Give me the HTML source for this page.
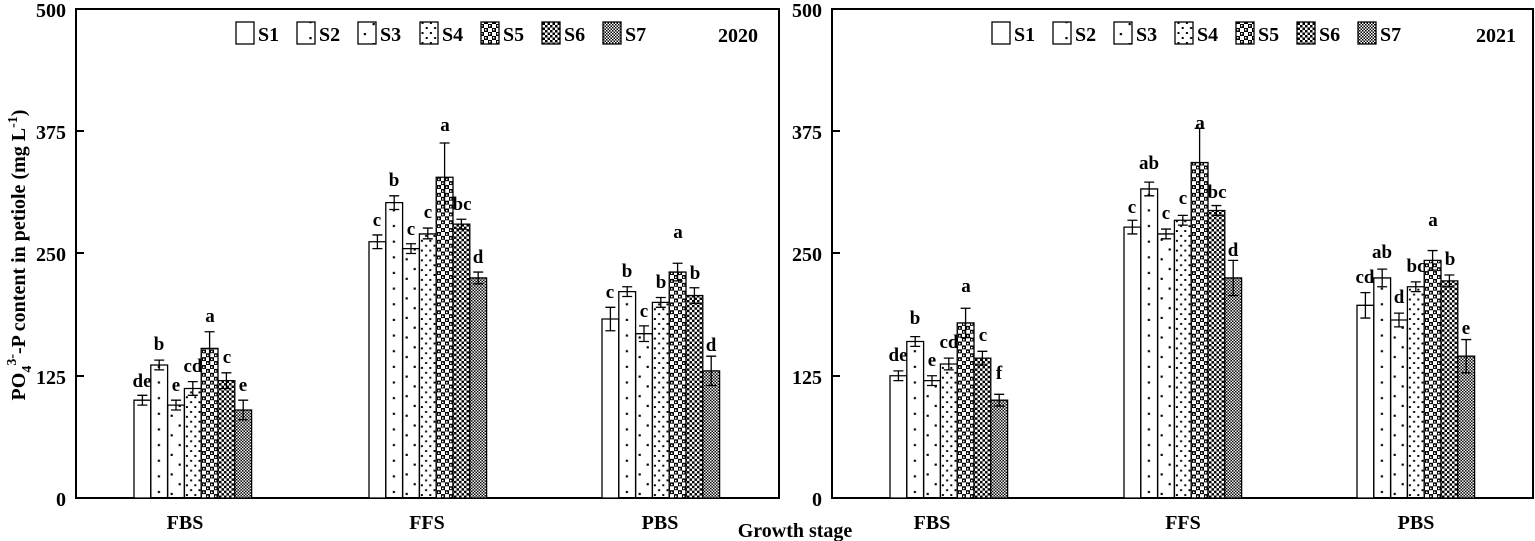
<!DOCTYPE html>
<html><head><meta charset="utf-8"><style>
html,body{margin:0;padding:0;background:#fff;}
svg{display:block;font-family:"Liberation Serif",serif;font-weight:bold;}
</style></head><body>
<svg width="1535" height="541" viewBox="0 0 1535 541" xmlns="http://www.w3.org/2000/svg">
<defs>
<pattern id="p2" patternUnits="userSpaceOnUse" width="16.8" height="16"><rect x="7" y="5" width="2.2" height="2.2" fill="#000"/></pattern>
<pattern id="p3" patternUnits="userSpaceOnUse" width="16.8" height="20"><rect x="3" y="3" width="2.2" height="2.2" fill="#000"/><rect x="11" y="13" width="2.2" height="2.2" fill="#000"/></pattern>
<pattern id="p4" patternUnits="userSpaceOnUse" width="8.4" height="10"><rect x="1.5" y="2" width="2" height="2" fill="#000"/><rect x="5.7" y="7" width="2" height="2" fill="#000"/></pattern>
<pattern id="p5" patternUnits="userSpaceOnUse" width="8" height="8"><rect width="8" height="8" fill="#fff"/><rect x="0" y="0" width="4" height="4" fill="#000"/><rect x="4" y="4" width="4" height="4" fill="#000"/><rect x="1" y="1" width="1.5" height="1.5" fill="#fff"/><rect x="5" y="5" width="1.5" height="1.5" fill="#fff"/></pattern>
<pattern id="p6" patternUnits="userSpaceOnUse" width="5" height="5"><rect width="5" height="5" fill="#fff"/><rect x="0" y="0" width="2.5" height="2.5" fill="#000"/><rect x="2.5" y="2.5" width="2.5" height="2.5" fill="#000"/></pattern>
<pattern id="p7" patternUnits="userSpaceOnUse" width="3" height="3"><rect width="3" height="3" fill="#fff"/><rect x="0" y="0" width="1.5" height="1.5" fill="#000"/><rect x="1.5" y="1.5" width="1.5" height="1.5" fill="#000"/></pattern>
</defs>

<g font-size="20" text-anchor="end">
<text x="66" y="17">500</text><text x="66" y="139">375</text><text x="66" y="261">250</text><text x="66" y="384">125</text><text x="66" y="506">0</text>
<text x="822" y="17">500</text><text x="822" y="139">375</text><text x="822" y="261">250</text><text x="822" y="384">125</text><text x="822" y="506">0</text>
</g>
<text transform="translate(25,255) rotate(-90)" font-size="20" text-anchor="middle">PO<tspan font-size="14" dy="6">4</tspan><tspan font-size="14" dy="-15">3-</tspan><tspan dy="9">-P content in petiole (mg L</tspan><tspan font-size="14" dy="-8">-1</tspan><tspan dy="8">)</tspan></text>

<g font-size="20" text-anchor="middle">
<text x="185" y="529">FBS</text><text x="427" y="529">FFS</text><text x="660" y="529">PBS</text>
<text x="932" y="529">FBS</text><text x="1183" y="529">FFS</text><text x="1416" y="529">PBS</text>
<text x="795" y="537">Growth stage</text>
</g>

<g fill="none" stroke="#000" stroke-width="2">
<rect x="76" y="9" width="703" height="489"/>
<rect x="832" y="9" width="701" height="489"/>
<path d="M76 131h8M76 253h8M76 376h8M832 131h8M832 253h8M832 376h8"/>
</g>

<g stroke="#000" stroke-width="1.3">
<g transform="translate(134,498) scale(1,-0.978)">
<rect x="0" width="16.8" height="100" fill="#fff" vector-effect="non-scaling-stroke"/>
<rect x="16.8" width="16.8" height="136" fill="url(#p2)" vector-effect="non-scaling-stroke"/>
<rect x="33.6" width="16.8" height="95" fill="url(#p3)" vector-effect="non-scaling-stroke"/>
<rect x="50.4" width="16.8" height="112" fill="url(#p4)" vector-effect="non-scaling-stroke"/>
<rect x="67.2" width="16.8" height="153" fill="url(#p5)" vector-effect="non-scaling-stroke"/>
<rect x="84" width="16.8" height="120" fill="url(#p6)" vector-effect="non-scaling-stroke"/>
<rect x="100.8" width="16.8" height="90" fill="url(#p7)" vector-effect="non-scaling-stroke"/>
<path vector-effect="non-scaling-stroke" fill="none" d="M8.4 95V105M3.4 95h10M3.4 105h10 M25.2 131V141M20.2 131h10M20.2 141h10 M42 90V100M37 90h10M37 100h10 M58.8 105V119M53.8 105h10M53.8 119h10 M75.6 136V170M70.6 170h10 M92.4 112V128M87.4 112h10M87.4 128h10 M109.2 80V100M104.2 80h10M104.2 100h10"/>
</g>
<g transform="translate(369,498) scale(1,-0.978)">
<rect x="0" width="16.8" height="262" fill="#fff" vector-effect="non-scaling-stroke"/>
<rect x="16.8" width="16.8" height="302" fill="url(#p2)" vector-effect="non-scaling-stroke"/>
<rect x="33.6" width="16.8" height="255" fill="url(#p3)" vector-effect="non-scaling-stroke"/>
<rect x="50.4" width="16.8" height="270" fill="url(#p4)" vector-effect="non-scaling-stroke"/>
<rect x="67.2" width="16.8" height="328" fill="url(#p5)" vector-effect="non-scaling-stroke"/>
<rect x="84" width="16.8" height="280" fill="url(#p6)" vector-effect="non-scaling-stroke"/>
<rect x="100.8" width="16.8" height="225" fill="url(#p7)" vector-effect="non-scaling-stroke"/>
<path vector-effect="non-scaling-stroke" fill="none" d="M8.4 255V269M3.4 255h10M3.4 269h10 M25.2 295V309M20.2 295h10M20.2 309h10 M42 250V260M37 250h10M37 260h10 M58.8 265V276M53.8 265h10M53.8 276h10 M75.6 293V363M70.6 363h10 M92.4 275V285M87.4 275h10M87.4 285h10 M109.2 219V231M104.2 219h10M104.2 231h10"/>
</g>
<g transform="translate(602,498) scale(1,-0.978)">
<rect x="0" width="16.8" height="183" fill="#fff" vector-effect="non-scaling-stroke"/>
<rect x="16.8" width="16.8" height="211" fill="url(#p2)" vector-effect="non-scaling-stroke"/>
<rect x="33.6" width="16.8" height="168" fill="url(#p3)" vector-effect="non-scaling-stroke"/>
<rect x="50.4" width="16.8" height="200" fill="url(#p4)" vector-effect="non-scaling-stroke"/>
<rect x="67.2" width="16.8" height="231" fill="url(#p5)" vector-effect="non-scaling-stroke"/>
<rect x="84" width="16.8" height="207" fill="url(#p6)" vector-effect="non-scaling-stroke"/>
<rect x="100.8" width="16.8" height="130" fill="url(#p7)" vector-effect="non-scaling-stroke"/>
<path vector-effect="non-scaling-stroke" fill="none" d="M8.4 171V195M3.4 171h10M3.4 195h10 M25.2 206V216M20.2 206h10M20.2 216h10 M42 160V176M37 160h10M37 176h10 M58.8 195V205M53.8 195h10M53.8 205h10 M75.6 222V240M70.6 222h10M70.6 240h10 M92.4 199V215M87.4 199h10M87.4 215h10 M109.2 115V145M104.2 115h10M104.2 145h10"/>
</g>
<g transform="translate(890,498) scale(1,-0.978)">
<rect x="0" width="16.8" height="125" fill="#fff" vector-effect="non-scaling-stroke"/>
<rect x="16.8" width="16.8" height="160" fill="url(#p2)" vector-effect="non-scaling-stroke"/>
<rect x="33.6" width="16.8" height="120" fill="url(#p3)" vector-effect="non-scaling-stroke"/>
<rect x="50.4" width="16.8" height="137" fill="url(#p4)" vector-effect="non-scaling-stroke"/>
<rect x="67.2" width="16.8" height="179" fill="url(#p5)" vector-effect="non-scaling-stroke"/>
<rect x="84" width="16.8" height="143" fill="url(#p6)" vector-effect="non-scaling-stroke"/>
<rect x="100.8" width="16.8" height="100" fill="url(#p7)" vector-effect="non-scaling-stroke"/>
<path vector-effect="non-scaling-stroke" fill="none" d="M8.4 120V130M3.4 120h10M3.4 130h10 M25.2 155V165M20.2 155h10M20.2 165h10 M42 115V125M37 115h10M37 125h10 M58.8 131V143M53.8 131h10M53.8 143h10 M75.6 164V194M70.6 164h10M70.6 194h10 M92.4 136V150M87.4 136h10M87.4 150h10 M109.2 94V106M104.2 94h10M104.2 106h10"/>
</g>
<g transform="translate(1124,498) scale(1,-0.978)">
<rect x="0" width="16.8" height="277" fill="#fff" vector-effect="non-scaling-stroke"/>
<rect x="16.8" width="16.8" height="316" fill="url(#p2)" vector-effect="non-scaling-stroke"/>
<rect x="33.6" width="16.8" height="270" fill="url(#p3)" vector-effect="non-scaling-stroke"/>
<rect x="50.4" width="16.8" height="284" fill="url(#p4)" vector-effect="non-scaling-stroke"/>
<rect x="67.2" width="16.8" height="343" fill="url(#p5)" vector-effect="non-scaling-stroke"/>
<rect x="84" width="16.8" height="294" fill="url(#p6)" vector-effect="non-scaling-stroke"/>
<rect x="100.8" width="16.8" height="225" fill="url(#p7)" vector-effect="non-scaling-stroke"/>
<path vector-effect="non-scaling-stroke" fill="none" d="M8.4 270V284M3.4 270h10M3.4 284h10 M25.2 309V323M20.2 309h10M20.2 323h10 M42 265V275M37 265h10M37 275h10 M58.8 279V289M53.8 279h10M53.8 289h10 M75.6 308V378M70.6 378h10 M92.4 289V299M87.4 289h10M87.4 299h10 M109.2 207V243M104.2 207h10M104.2 243h10"/>
</g>
<g transform="translate(1357,498) scale(1,-0.978)">
<rect x="0" width="16.8" height="197" fill="#fff" vector-effect="non-scaling-stroke"/>
<rect x="16.8" width="16.8" height="225" fill="url(#p2)" vector-effect="non-scaling-stroke"/>
<rect x="33.6" width="16.8" height="182" fill="url(#p3)" vector-effect="non-scaling-stroke"/>
<rect x="50.4" width="16.8" height="216" fill="url(#p4)" vector-effect="non-scaling-stroke"/>
<rect x="67.2" width="16.8" height="243" fill="url(#p5)" vector-effect="non-scaling-stroke"/>
<rect x="84" width="16.8" height="222" fill="url(#p6)" vector-effect="non-scaling-stroke"/>
<rect x="100.8" width="16.8" height="145" fill="url(#p7)" vector-effect="non-scaling-stroke"/>
<path vector-effect="non-scaling-stroke" fill="none" d="M8.4 184V210M3.4 184h10M3.4 210h10 M25.2 216V234M20.2 216h10M20.2 234h10 M42 175V189M37 175h10M37 189h10 M58.8 211V221M53.8 211h10M53.8 221h10 M75.6 233V253M70.6 233h10M70.6 253h10 M92.4 216V228M87.4 216h10M87.4 228h10 M109.2 128V162M104.2 128h10M104.2 162h10"/>
</g>
</g>

<g font-size="19" text-anchor="middle">
<text x="142" y="387">de</text><text x="159" y="350">b</text><text x="176" y="391">e</text><text x="193" y="372">cd</text><text x="210" y="322">a</text><text x="227" y="363">c</text><text x="243" y="391">e</text>
<text x="377" y="226">c</text><text x="394" y="186">b</text><text x="411" y="235">c</text><text x="428" y="218">c</text><text x="445" y="131">a</text><text x="462" y="210">bc</text><text x="478" y="263">d</text>
<text x="610" y="298">c</text><text x="627" y="277">b</text><text x="644" y="317">c</text><text x="661" y="288">b</text><text x="678" y="238">a</text><text x="695" y="279">b</text><text x="711" y="351">d</text>
<text x="898" y="361">de</text><text x="915" y="324">b</text><text x="932" y="366">e</text><text x="949" y="348">cd</text><text x="966" y="292">a</text><text x="983" y="341">c</text><text x="999" y="379">f</text>
<text x="1132" y="213">c</text><text x="1149" y="169">ab</text><text x="1166" y="219">c</text><text x="1183" y="204">c</text><text x="1200" y="129">a</text><text x="1217" y="198">bc</text><text x="1233" y="256">d</text>
<text x="1365" y="283">cd</text><text x="1382" y="258">ab</text><text x="1399" y="303">d</text><text x="1416" y="272">bc</text><text x="1433" y="226">a</text><text x="1450" y="265">b</text><text x="1466" y="334">e</text>
</g>

<g stroke="#000" stroke-width="1.3">
<rect x="236" y="22" width="18" height="22" fill="#fff"/>
<rect x="297" y="22" width="18" height="22" fill="url(#p2)"/>
<rect x="358" y="22" width="18" height="22" fill="url(#p3)"/>
<rect x="420" y="22" width="18" height="22" fill="url(#p4)"/>
<rect x="481" y="22" width="18" height="22" fill="url(#p5)"/>
<rect x="542" y="22" width="18" height="22" fill="url(#p6)"/>
<rect x="603" y="22" width="18" height="22" fill="url(#p7)"/>
<rect x="992" y="22" width="18" height="22" fill="#fff"/>
<rect x="1053" y="22" width="18" height="22" fill="url(#p2)"/>
<rect x="1114" y="22" width="18" height="22" fill="url(#p3)"/>
<rect x="1175" y="22" width="18" height="22" fill="url(#p4)"/>
<rect x="1236" y="22" width="18" height="22" fill="url(#p5)"/>
<rect x="1297" y="22" width="18" height="22" fill="url(#p6)"/>
<rect x="1358" y="22" width="18" height="22" fill="url(#p7)"/>
</g>
<g font-size="20">
<text x="258" y="41">S1</text><text x="319" y="41">S2</text><text x="380" y="41">S3</text><text x="442" y="41">S4</text><text x="503" y="41">S5</text><text x="564" y="41">S6</text><text x="625" y="41">S7</text>
<text x="718" y="42">2020</text>
<text x="1014" y="41">S1</text><text x="1075" y="41">S2</text><text x="1136" y="41">S3</text><text x="1197" y="41">S4</text><text x="1258" y="41">S5</text><text x="1319" y="41">S6</text><text x="1380" y="41">S7</text>
<text x="1476" y="42">2021</text>
</g>
</svg>
</body></html>
